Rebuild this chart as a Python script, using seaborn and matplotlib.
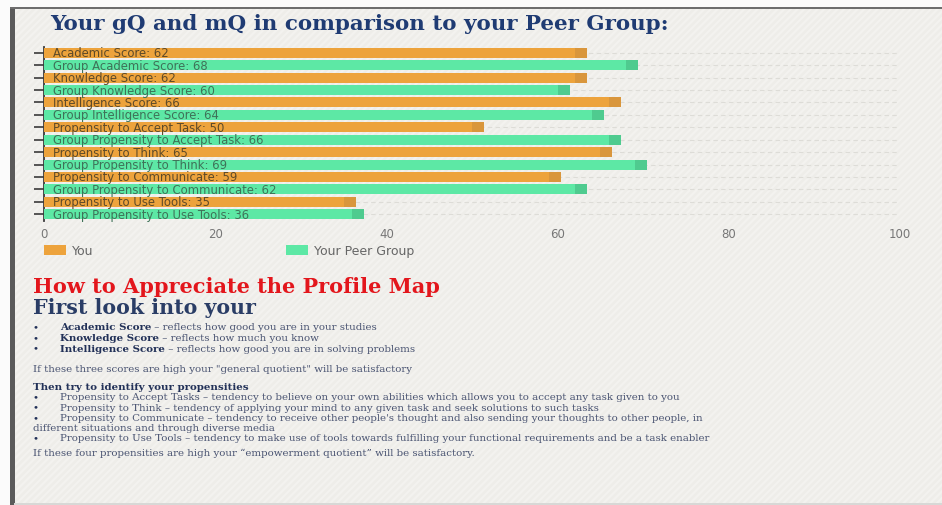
import numpy as np
import pandas as pd
import seaborn as sns
import matplotlib.pyplot as plt
from matplotlib.patches import Rectangle

# ---------------- data ----------------
metrics = ["Academic Score", "Knowledge Score", "Intelligence Score",
           "Propensity to Accept Task", "Propensity to Think",
           "Propensity to Communicate", "Propensity to Use Tools"]
you_scores = [62, 62, 66, 50, 65, 59, 35]
peer_scores = [68, 60, 64, 66, 69, 62, 36]
series_names = ["You", "Your Peer Group"]
x_ticks = [0, 20, 40, 60, 80, 100]

title = "Your gQ and mQ in comparison to your Peer Group:"
heading = "How to Appreciate the Profile Map"
subheading = "First look into your"
g_items = [("Academic Score", " \u2013 reflects how good you are in your studies"),
           ("Knowledge Score", " \u2013 reflects how much you know"),
           ("Intelligence Score", " \u2013 reflects how good you are in solving problems")]
g_note = 'If these three scores are high your "general quotient" will be satisfactory'
p_head = "Then try to identify your propensities"
p_lines = [
    ("\u2022", "Propensity to Accept Tasks \u2013 tendency to believe on your own abilities which allows you to accept any task given to you"),
    ("\u2022", "Propensity to Think \u2013 tendency of applying your mind to any given task and seek solutions to such tasks"),
    ("\u2022", "Propensity to Communicate \u2013 tendency to receive other people's thought and also sending your thoughts to other people, in"),
    ("", "different situations and through diverse media"),
    ("\u2022", "Propensity to Use Tools \u2013 tendency to make use of tools towards fulfilling your functional requirements and be a task enabler"),
]
p_note = "If these four propensities are high your \u201cempowerment quotient\u201d will be satisfactory."

# ---------------- table ----------------
rows = []
for m, y, p in zip(metrics, you_scores, peer_scores):
    rows.append({"label": f"{m}: {y}", "value": y, "group": series_names[0]})
    rows.append({"label": f"Group {m}: {p}", "value": p, "group": series_names[1]})
df = pd.DataFrame(rows)

W, H = 942, 506
sns.set_theme(style="white")
plt.rcParams["font.family"] = ["DejaVu Sans"]
plt.rcParams["hatch.linewidth"] = 1.6

fig = plt.figure(figsize=(W / 100, H / 100), dpi=100)
fig.patch.set_facecolor("#fbfbfb")

def fx(x):
    return x / W

def fy(y):
    return 1 - y / H

# page panel with diagonal stripes
fig.add_artist(Rectangle((fx(14), 0), fx(W - 14), fy(10), transform=fig.transFigure,
                         facecolor="#eeede9", edgecolor="none", zorder=-10))
fig.add_artist(Rectangle((fx(14), 0), fx(W - 14), fy(10), transform=fig.transFigure,
                         facecolor="none", edgecolor="#f3f2ef", lw=0, hatch="/////", zorder=-9))
# frame
fig.add_artist(Rectangle((fx(10), 0), fx(5), fy(8), transform=fig.transFigure,
                         facecolor="#5a5a5a", edgecolor="none", zorder=-5))
fig.add_artist(Rectangle((fx(10), fy(10)), fx(W - 10), 2 / H, transform=fig.transFigure,
                         facecolor="#6e6e6e", edgecolor="none", zorder=-5))
fig.add_artist(Rectangle((fx(14), 0), fx(W - 14), 2 / H, transform=fig.transFigure,
                         facecolor="#d8d8d6", edgecolor="none", zorder=-5))

# ---------------- chart ----------------
orange, green = "#eda33c", "#5de8a5"
orange_d, green_d = "#d9963c", "#4fcb8f"
ax = fig.add_axes([fx(44), fy(221.5), fx(856), 174 / H])
ax.patch.set_alpha(0)
sns.barplot(data=df, x="value", y="label", hue="group", dodge=False, width=0.8,
            palette={series_names[0]: orange, series_names[1]: green},
            saturation=1, ax=ax, zorder=3, linewidth=0, edgecolor="none")
for i, r in df.iterrows():
    ax.barh(i, 1.4, left=r["value"], height=0.8, linewidth=0,
            color=orange_d if r["group"] == series_names[0] else green_d, zorder=3)
    ax.text(1.05, i, r["label"], va="center", ha="left", fontsize=8.4,
            color="#5e4a28" if r["group"] == series_names[0] else "#3e7258", zorder=5)

ax.set_xlim(0, 100)
ax.set_ylim(len(df) - 0.5, -0.5)
ax.set_xticks(x_ticks)
ax.set_yticks(range(len(df)))
ax.set_yticklabels([])
ax.set_xlabel("")
ax.set_ylabel("")
ax.tick_params(axis="y", length=7, width=1.2, color="#3a3a3a", left=True)
ax.tick_params(axis="x", length=0, labelsize=8.5, labelcolor="#777777", pad=5)
for s in ["top", "right", "bottom"]:
    ax.spines[s].set_visible(False)
ax.spines["left"].set_color("#3a3a3a")
ax.spines["left"].set_linewidth(1.3)
ax.grid(axis="y", ls=(0, (4, 3)), color="#dddcd7", lw=0.8)
ax.grid(axis="x", visible=False)
ax.set_axisbelow(True)

handles, labs = ax.get_legend_handles_labels()
ax.legend(handles, labs, ncol=2, loc="upper left", bbox_to_anchor=(fx(44), fy(245.5)),
          bbox_transform=fig.transFigure, frameon=False, borderpad=0, borderaxespad=0,
          handlelength=1.76, handleheight=0.8, handletextpad=0.5, columnspacing=15.4,
          fontsize=9, labelcolor="#666666")

# ---------------- text ----------------
tax = fig.add_axes([0, 0, 1, 1], zorder=-1)
tax.axis("off")
serif = ["DejaVu Serif"]
navy = "#1f3b73"
body = "#4a5472"
dark = "#223158"

tax.text(fx(50), fy(24), title, family=serif, fontweight="bold", fontsize=15.4,
         color=navy, va="center", ha="left")
tax.text(fx(33), fy(287), heading, family=serif, fontweight="bold", fontsize=15,
         color="#e3161c", va="center", ha="left")
tax.text(fx(33), fy(308.5), subheading, family=serif, fontweight="bold", fontsize=14.8,
         color="#2a3d66", va="center", ha="left")

fs = 7.4
for (b, rest), y in zip(g_items, [328, 338.5, 349]):
    tax.text(fx(33), fy(y), "\u2022", family=serif, fontsize=fs, color=dark, va="center")
    t = tax.text(fx(60), fy(y), b, family=serif, fontweight="bold", fontsize=fs,
                 color=dark, va="center", ha="left")
    tax.annotate(rest, xy=(1, 0.5), xycoords=t, va="center", ha="left",
                 family=serif, fontsize=fs, color=body)
tax.text(fx(33), fy(369), g_note, family=serif, fontsize=fs, color=body, va="center")
tax.text(fx(33), fy(387.5), p_head, family=serif, fontweight="bold", fontsize=fs,
         color=dark, va="center")
for (b, line), y in zip(p_lines, [397.8, 408.1, 418.4, 428.7, 439.0]):
    if b:
        tax.text(fx(33), fy(y), b, family=serif, fontsize=fs, color=dark, va="center")
        tax.text(fx(60), fy(y), line, family=serif, fontsize=fs, color=body, va="center")
    else:
        tax.text(fx(33), fy(y), line, family=serif, fontsize=fs, color=body, va="center")
tax.text(fx(33), fy(453), p_note, family=serif, fontsize=fs, color=body, va="center")

fig.savefig("out.png", dpi=100, facecolor=fig.get_facecolor())
